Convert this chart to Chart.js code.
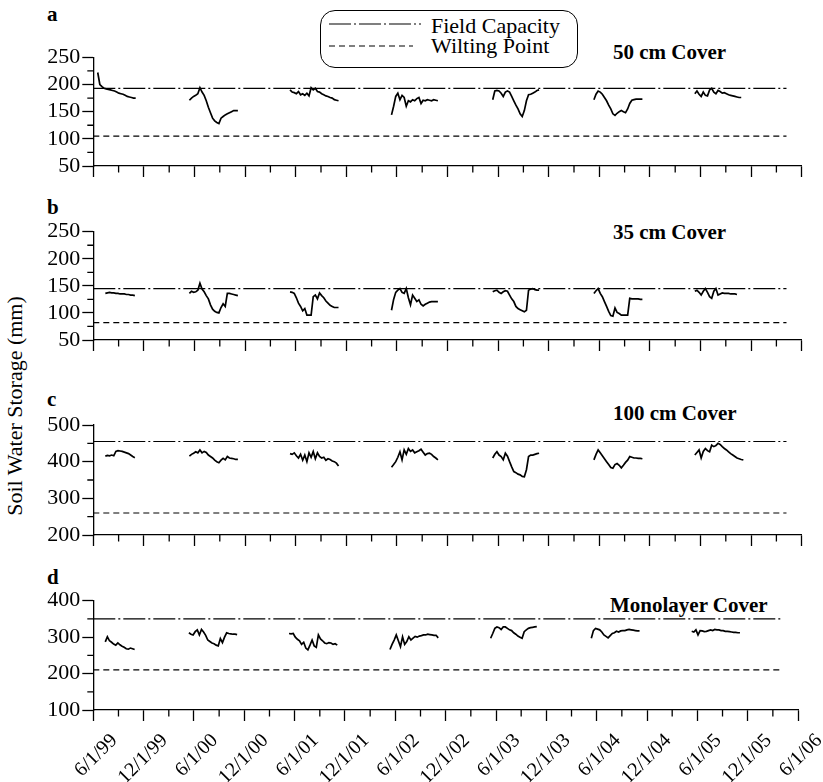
<!DOCTYPE html>
<html>
<head>
<meta charset="utf-8">
<script src="https://cdn.jsdelivr.net/npm/chart.js@4.4.1/dist/chart.umd.min.js"></script>
<style>
    body { margin: 0; background: #fff; }
    #wrap { position: relative; width: 823px; height: 782px; overflow: hidden;
            font-family: "Liberation Serif", "Times New Roman", serif; color: #000; }
    #wrap canvas { position: absolute; left: 0; }
    .txt { position: absolute; white-space: nowrap; font-size: 21px; line-height: 21px; }
    .bold { font-weight: bold; }
    #legend { position: absolute; left: 320px; top: 10px; width: 256px; height: 56px;
              border: 1.3px solid #000; border-radius: 15px; }
    #ytitle { position: absolute; left: -135px; top: 395px; width: 300px; text-align: center;
              font-size: 22px; line-height: 22px; transform: rotate(-90deg); }
</style>
</head>
<body>
<div id="wrap">
    <div id="legend">
        <svg width="100" height="56" style="position:absolute;left:0;top:0">
            <line x1="8" y1="13" x2="101" y2="13" stroke="#000" stroke-width="1.2" stroke-dasharray="22,3,2,3"></line>
            <line x1="8" y1="35" x2="92" y2="35" stroke="#000" stroke-width="1.2" stroke-dasharray="6,4"></line>
        </svg>
        <div class="txt" style="left:110px;top:4px;font-size:22px;line-height:22px">Field Capacity</div>
        <div class="txt" style="left:110px;top:24px;font-size:22px;line-height:22px">Wilting Point</div>
    </div>
    <div class="txt bold" style="left:47px;top:4px">a</div>
    <div class="txt bold" style="left:47px;top:197px">b</div>
    <div class="txt bold" style="left:47px;top:389px">c</div>
    <div class="txt bold" style="left:47px;top:567px">d</div>
    <div class="txt bold" style="left:613px;top:42px">50 cm Cover</div>
    <div class="txt bold" style="left:613px;top:222px">35 cm Cover</div>
    <div class="txt bold" style="left:613px;top:403px">100 cm Cover</div>
    <div class="txt bold" style="left:610px;top:595px">Monolayer Cover</div>
    <div id="ytitle">Soil Water Storage (mm)</div>
    <canvas id="panelA"></canvas>
    <canvas id="panelB"></canvas>
    <canvas id="panelC"></canvas>
    <canvas id="panelD"></canvas>
</div>
<script>
    // x axis: months since 6/1/99, labelled every 6 months
    const xLabels = ['6/1/99', '12/1/99', '6/1/00', '12/1/00', '6/1/01', '12/1/01', '6/1/02',
                     '12/1/02', '6/1/03', '12/1/03', '6/1/04', '12/1/04', '6/1/05', '12/1/05', '6/1/06'];

    // first day of each monitoring season, values are read every quarter month
    const startsA = ['1999-06-17', '2000-05-13', '2001-05-11', '2002-05-12', '2003-05-12', '2004-05-12', '2005-05-11'];
    const startsBCD = ['1999-07-14', '2000-05-13', '2001-05-11', '2002-05-12', '2003-05-12', '2004-05-12', '2005-05-11'];
    const stepMonths = 0.25;

    const cover50 = [
        [222, 200, 196, 193, 192, 191, 190, 189, 188, 186, 184, 183, 182, 180, 178, 177, 176, 175, 175],
        [171, 175, 178, 180, 183, 194, 186, 180, 170, 158, 148, 138, 133, 130, 128, 138, 141, 144, 146, 148, 150, 152, 152, 152],
        [190, 186, 185, 183, 187, 181, 183, 180, 184, 179, 194, 190, 193, 187, 186, 183, 181, 179, 178, 176, 175, 172, 171, 170],
        [144, 160, 178, 184, 172, 180, 176, 160, 170, 168, 172, 170, 174, 176, 165, 171, 170, 172, 171, 170, 172, 171, 170],
        [172, 188, 189, 188, 184, 178, 186, 188, 186, 178, 170, 162, 155, 146, 141, 152, 170, 181, 182, 184, 186, 189, 190],
        [172, 182, 188, 186, 182, 176, 170, 162, 155, 146, 143, 147, 150, 152, 150, 148, 155, 165, 171, 172, 173, 173, 173, 173],
        [183, 188, 182, 178, 186, 180, 179, 190, 193, 186, 183, 189, 187, 184, 185, 183, 181, 180, 179, 178, 177, 176, 176]
    ];
    const cover35 = [
        [136, 137, 138, 137, 137, 136, 136, 135, 135, 135, 134, 134, 133, 133, 132],
        [136, 140, 138, 139, 142, 155, 144, 139, 132, 126, 115, 107, 103, 101, 100, 110, 117, 112, 136, 136, 135, 134, 133, 132],
        [139, 138, 136, 128, 118, 112, 104, 108, 96, 96, 96, 130, 133, 126, 137, 132, 128, 122, 118, 114, 112, 110, 110, 110],
        [105, 125, 138, 142, 145, 138, 136, 145, 128, 115, 133, 127, 121, 124, 116, 113, 116, 118, 120, 121, 121, 121, 121],
        [139, 141, 142, 138, 136, 139, 141, 140, 133, 126, 121, 112, 108, 106, 104, 102, 105, 142, 144, 145, 143, 142, 142],
        [136, 141, 145, 136, 130, 121, 112, 103, 95, 94, 109, 101, 99, 96, 96, 96, 96, 127, 126, 126, 126, 126, 125, 125],
        [140, 142, 138, 133, 140, 145, 138, 130, 127, 140, 145, 133, 135, 137, 136, 136, 136, 135, 135, 135, 134]
    ];
    const cover100 = [
        [415, 417, 416, 418, 416, 428, 430, 429, 428, 426, 424, 422, 418, 414, 411],
        [415, 420, 423, 427, 424, 432, 424, 428, 425, 418, 414, 410, 404, 400, 397, 404, 409, 405, 414, 410, 409, 408, 406, 406],
        [422, 420, 424, 416, 410, 420, 404, 418, 400, 424, 412, 428, 408, 424, 414, 410, 412, 404, 408, 406, 402, 400, 396, 388],
        [385, 392, 400, 412, 427, 405, 432, 420, 436, 428, 432, 424, 427, 430, 434, 426, 418, 422, 423, 420, 414, 410, 405],
        [410, 420, 427, 418, 414, 405, 423, 415, 400, 386, 373, 370, 366, 364, 360, 359, 378, 414, 418, 418, 420, 422, 423],
        [405, 420, 432, 424, 416, 408, 400, 392, 384, 382, 392, 395, 390, 383, 390, 398, 404, 414, 412, 410, 410, 409, 409, 408],
        [418, 425, 432, 410, 428, 436, 430, 427, 445, 441, 444, 450, 447, 441, 436, 432, 427, 422, 418, 414, 410, 408, 406, 405]
    ];
    const coverMono = [
        [287, 301, 290, 286, 281, 278, 284, 279, 275, 272, 268, 267, 270, 268, 266],
        [312, 308, 306, 315, 320, 306, 321, 314, 305, 292, 288, 284, 282, 278, 276, 296, 285, 300, 312, 310, 309, 308, 308, 307],
        [310, 309, 310, 300, 294, 290, 280, 286, 270, 265, 278, 292, 276, 272, 306, 295, 290, 284, 282, 285, 284, 280, 282, 278],
        [266, 280, 292, 306, 290, 274, 301, 280, 288, 301, 292, 297, 302, 300, 303, 304, 306, 306, 308, 307, 306, 305, 305, 298],
        [297, 310, 324, 328, 326, 321, 328, 328, 324, 320, 318, 312, 308, 303, 300, 297, 315, 320, 324, 326, 327, 328, 329],
        [297, 318, 324, 322, 320, 314, 306, 302, 298, 304, 310, 312, 316, 314, 317, 318, 318, 320, 321, 320, 319, 318, 317, 317],
        [316, 314, 320, 306, 318, 317, 315, 316, 318, 320, 318, 321, 320, 320, 318, 318, 316, 316, 315, 314, 313, 313, 312, 312]
    ];

    // field capacity / wilting point for a, b, c, d
    const fieldCapacity = [193, 145, 455, 350];
    const wiltingPoint = [105, 82, 260, 210];
    const refLineStart = '1999-06-01';
    const refLineEnd = '2006-04-07';

    const yMin = [50, 50, 200, 100];
    const yMax = [250, 250, 500, 400];
    const yStep = [50, 50, 100, 100];

    function toMonths(s) {
        const [y, m, d] = s.split('-').map(Number);
        return (y - 1999) * 12 + (m - 6) + (d - 1) / 30.44;
    }

    function seriesPoints(starts, seasons) {
        const pts = [];
        seasons.forEach(function(vals, i) {
            const m0 = toMonths(starts[i]);
            vals.forEach(function(v, j) { pts.push({ x: m0 + j * stepMonths, y: v }); });
            pts.push({ x: m0 + vals.length * stepMonths, y: null }); // gap between seasons
        });
        return pts;
    }

    // short ticks half way between the labelled ones
    const minorTicks = {
        id: 'minorTicks',
        afterDraw(chart) {
            const { ctx, scales: { x, y } } = chart;
            ctx.save();
            ctx.strokeStyle = '#000';
            ctx.lineWidth = 1.3;
            ctx.beginPath();
            for (let m = 3; m < 84; m += 6) {
                const px = x.getPixelForValue(m);
                ctx.moveTo(px, x.top);
                ctx.lineTo(px, x.top + 6.5);
            }
            const half = y.options.ticks.stepSize / 2;
            for (let v = y.min + half; v < y.max; v += 2 * half) {
                const py = y.getPixelForValue(v);
                ctx.moveTo(y.right, py);
                ctx.lineTo(y.right - 6, py);
            }
            ctx.stroke();
            ctx.restore();
        }
    };

    const serif = 'Liberation Serif';

    function makePanel(id, idx, seasons, starts, areaTop, areaBottom, canvasBottom) {
        const canvas = document.getElementById(id);
        const top = Math.floor(areaTop) - 20;
        const height = canvasBottom - top;
        const isLast = idx === 3;
        canvas.style.top = top + 'px';
        canvas.width = 823;
        canvas.height = height;
        const xHeight = height - (areaBottom - top);

        new Chart(canvas.getContext('2d'), {
            type: 'line',
            data: {
                datasets: [{
                    data: seriesPoints(starts, seasons),
                    borderColor: '#000',
                    borderWidth: 1.7,
                    pointRadius: 0,
                    spanGaps: false,
                    tension: 0
                }, {
                    data: [{ x: toMonths(refLineStart), y: fieldCapacity[idx] }, { x: toMonths(refLineEnd), y: fieldCapacity[idx] }],
                    borderColor: '#000',
                    borderWidth: 1.2,
                    borderDash: [22, 3, 2, 3],
                    pointRadius: 0
                }, {
                    data: [{ x: toMonths(refLineStart), y: wiltingPoint[idx] }, { x: toMonths(refLineEnd), y: wiltingPoint[idx] }],
                    borderColor: '#000',
                    borderWidth: 1.2,
                    borderDash: [6, 4],
                    pointRadius: 0
                }]
            },
            options: {
                responsive: false,
                animation: false,
                layout: { padding: { top: areaTop - top, right: 823 - 801.7, bottom: 0, left: 0 } },
                plugins: { legend: { display: false }, tooltip: { enabled: false } },
                scales: {
                    x: {
                        type: 'linear',
                        min: 0,
                        max: 84,
                        afterFit: function(scale) { scale.height = xHeight; },
                        border: { color: '#000', width: 1.3 },
                        grid: { drawOnChartArea: false, color: '#000', tickColor: '#000', tickLength: 11, tickWidth: 1.3 },
                        ticks: {
                            display: isLast,
                            stepSize: 6,
                            autoSkip: false,
                            minRotation: 45,
                            maxRotation: 45,
                            padding: 8,
                            labelOffset: 21,
                            color: '#000',
                            font: { family: serif, size: 20 },
                            callback: function(value, index) { return xLabels[index]; }
                        }
                    },
                    y: {
                        min: yMin[idx],
                        max: yMax[idx],
                        afterFit: function(scale) { scale.width = 93.3; },
                        border: { color: '#000', width: 1.3 },
                        grid: { drawOnChartArea: false, color: '#000', tickColor: '#000', tickLength: 11, tickWidth: 1.3 },
                        ticks: {
                            stepSize: yStep[idx],
                            autoSkip: false,
                            padding: 2,
                            color: '#000',
                            font: { family: serif, size: 22 }
                        }
                    }
                }
            },
            plugins: [minorTicks]
        });
    }

    makePanel('panelA', 0, cover50, startsA, 57.3, 166, 182);
    makePanel('panelB', 1, cover35, startsBCD, 231.7, 340, 356);
    makePanel('panelC', 2, cover100, startsBCD, 425, 535, 551);
    makePanel('panelD', 3, coverMono, startsBCD, 600.7, 710, 782);
</script>
</body>
</html>
